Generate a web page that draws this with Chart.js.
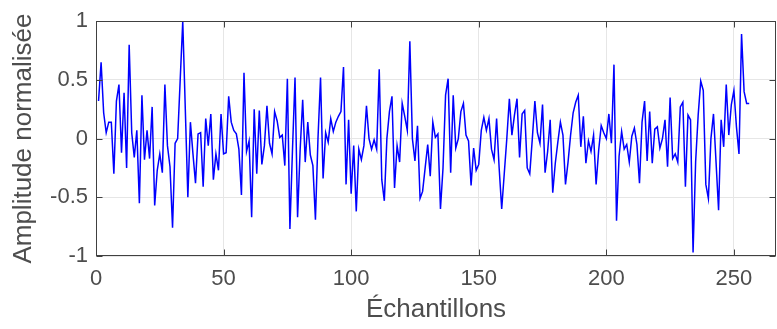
<!DOCTYPE html>
<html>
<head>
<meta charset="utf-8">
<script src="https://cdn.jsdelivr.net/npm/chart.js@4"></script>
<style>
  html, body { margin: 0; padding: 0; background: #fff; }
  #wrap { width: 777px; height: 329px; }
</style>
</head>
<body>
<div id="wrap"><canvas id="chartCanvas" width="777" height="329"></canvas></div>
<script>
// amplitude of each sample (samples 1..256)
const amplitude = [
  0.32, 0.65, 0.22, 0.05, 0.14, 0.14,-0.30, 0.32, 0.46,-0.12, 0.39,-0.25, 0.80, 0.05,-0.16, 0.07,
 -0.55, 0.37,-0.18, 0.07,-0.17, 0.27,-0.57,-0.27,-0.13,-0.29, 0.46,-0.06,-0.24,-0.76,-0.04, 0.00,
  0.50, 1.00, 0.25,-0.50, 0.14,-0.13,-0.38, 0.04, 0.05,-0.41, 0.17,-0.06, 0.21,-0.35,-0.13,-0.27,
  0.21,-0.13,-0.12, 0.36, 0.14, 0.07, 0.04,-0.09,-0.48, 0.56,-0.11,-0.02,-0.67, 0.25,-0.30, 0.24,
 -0.22,-0.06, 0.28,-0.04,-0.13, 0.23, 0.15, 0.01, 0.03,-0.23, 0.51,-0.77,-0.10, 0.52,-0.67,-0.10,
  0.33,-0.20, 0.14,-0.14,-0.23,-0.69, 0.00, 0.52,-0.34, 0.05,-0.03, 0.17, 0.06, 0.14, 0.19, 0.23,
  0.61,-0.39, 0.16,-0.47,-0.06,-0.62,-0.09,-0.18,-0.06, 0.28, 0.00,-0.09,-0.01,-0.09, 0.59,-0.35,
 -0.53, 0.00, 0.23, 0.36,-0.42,-0.06,-0.20, 0.30, 0.19, 0.07, 0.83, 0.00,-0.19, 0.11,-0.51,-0.45,
 -0.25,-0.05,-0.32, 0.14, 0.01, 0.04,-0.60,-0.25, 0.37, 0.51,-0.29, 0.37,-0.08, 0.00, 0.23, 0.30,
  0.03,-0.02,-0.40,-0.08,-0.27,-0.22, 0.07, 0.18, 0.07, 0.17,-0.09,-0.18, 0.17,-0.25,-0.60,-0.30,
  0.00, 0.34, 0.03, 0.20, 0.34,-0.16, 0.21, 0.24,-0.25,-0.30, 0.00, 0.32, 0.05,-0.04, 0.29,-0.29,
 -0.11, 0.16,-0.46,-0.21,-0.03, 0.14, 0.03,-0.39,-0.20, 0.03, 0.22, 0.31, 0.37,-0.07, 0.19,-0.21,
 -0.02,-0.11, 0.03,-0.39,-0.10, 0.11, 0.05, 0.00, 0.21,-0.04, 0.63,-0.70,-0.15, 0.06,-0.09,-0.05,
 -0.20, 0.02, 0.09,-0.05,-0.38, 0.14, 0.32,-0.19, 0.23,-0.21, 0.08, 0.10,-0.08, 0.00, 0.16,-0.24,
  0.35,-0.17,-0.13,-0.20, 0.27, 0.31,-0.41, 0.20, 0.16,-0.97,-0.20, 0.20, 0.49, 0.41,-0.39,-0.51,
  0.00, 0.21,-0.20,-0.61, 0.16,-0.07, 0.46, 0.03, 0.29, 0.41, 0.10,-0.13, 0.89, 0.40, 0.30, 0.30
];
const xTicks = [0, 50, 100, 150, 200, 250];
const yTicks = [-1, -0.5, 0, 0.5, 1];
const xTitle = 'Échantillons';
const yTitle = 'Amplitude normalisée';

const AXIS = '#404040';
const TEXT = '#4d4d4d';
const FONT = '"Liberation Sans", Arial, sans-serif';

// MATLAB-style box with inward tick marks
const boxPlugin = {
  id: 'box',
  afterDraw(chart){
    const {ctx, chartArea: a, scales: {x, y}} = chart;
    const L = Math.round(a.left) + 0.5, R = Math.round(a.right) - 0.5;
    const T = Math.round(a.top) + 0.5, B = Math.round(a.bottom) - 0.5;
    ctx.save();
    ctx.strokeStyle = AXIS;
    ctx.lineWidth = 1;
    ctx.strokeRect(L, T, R - L, B - T);
    ctx.beginPath();
    xTicks.forEach(v=>{
      const px = Math.round(x.getPixelForValue(v)) + 0.5;
      ctx.moveTo(px, B); ctx.lineTo(px, B - 6);
      ctx.moveTo(px, T); ctx.lineTo(px, T + 6);
    });
    yTicks.forEach(v=>{
      const py = Math.round(y.getPixelForValue(v)) + 0.5;
      ctx.moveTo(L, py); ctx.lineTo(L + 6, py);
      ctx.moveTo(R, py); ctx.lineTo(R - 6, py);
    });
    ctx.stroke();
    ctx.restore();
  }
};

// put the tick list in by hand so nothing gets snapped to the axis bounds
const setTicks = list => s => { s.ticks = list.map(v => ({value: v})); };

new Chart(document.getElementById('chartCanvas'), {
  type: 'line',
  data: {
    datasets: [{
      data: amplitude.map((v, i) => ({x: i + 1, y: v})),
      borderColor: '#0000ff',
      borderWidth: 1.5,
      pointRadius: 0,
      tension: 0,
      fill: false
    }]
  },
  options: {
    responsive: false,
    animation: false,
    layout: {padding: {top: 16, right: 1, left: 0, bottom: 0}},
    plugins: {legend: {display: false}, tooltip: {enabled: false}},
    scales: {
      x: {
        type: 'linear', min: 0, max: 266.5,
        afterBuildTicks: setTicks(xTicks),
        afterFit: s => { s.height = 73; },
        ticks: {color: TEXT, font: {family: FONT, size: 22}, padding: 10, maxRotation: 0, autoSkip: false, includeBounds: false},
        grid: {color: '#e6e6e6', drawTicks: false},
        border: {display: false},
        title: {display: true, text: xTitle, color: TEXT, font: {family: FONT, size: 26}, padding: {top: 0, bottom: 4}}
      },
      y: {
        min: -1, max: 1,
        afterBuildTicks: setTicks(yTicks),
        afterFit: s => { s.width = 96; },
        ticks: {color: TEXT, font: {family: FONT, size: 22}, padding: 8, autoSkip: false, callback: v => String(v)},
        grid: {color: '#e6e6e6', drawTicks: false},
        border: {display: false},
        title: {display: true, text: yTitle, color: TEXT, font: {family: FONT, size: 26}, padding: {top: 8, bottom: 0}}
      }
    }
  },
  plugins: [boxPlugin]
});
</script>
</body>
</html>
